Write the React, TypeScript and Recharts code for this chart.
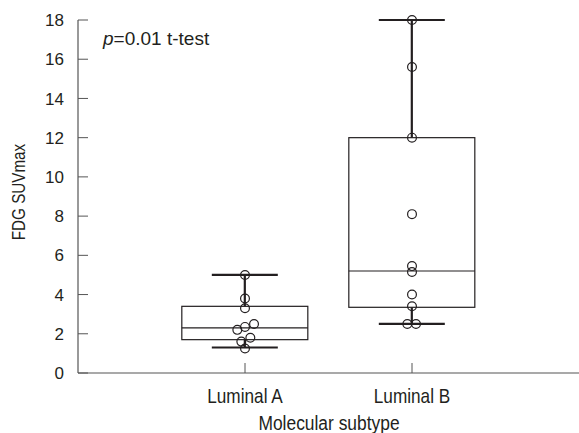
import { ComposedChart, Bar, Scatter, XAxis, YAxis, Label } from "recharts";

// box statistics per subtype
const SUBTYPES = ["Luminal A", "Luminal B"];
const POSITIONS = [1, 2];
const WHISKER_LOW = [1.3, 2.5];
const Q1 = [1.7, 3.35];
const MEDIAN = [2.3, 5.2];
const Q3 = [3.4, 12.0];
const WHISKER_HIGH = [5.0, 18.0];

// individual patients
const VALUES_A = [5.0, 3.8, 3.3, 2.5, 2.35, 2.2, 1.8, 1.6, 1.25];
const JITTER_A = [0, 0, 0, 0.054, 0, -0.046, 0.032, -0.022, 0];
const VALUES_B = [18.0, 15.6, 12.0, 8.1, 5.45, 5.15, 4.0, 3.4, 2.5, 2.5];
const JITTER_B = [0, 0, 0, 0, 0, 0, 0, 0, -0.028, 0.024];

const Y_TICKS = [0, 2, 4, 6, 8, 10, 12, 14, 16, 18];

const INK = "#231f20";
const AXIS = "#555";
const FONT = "'Liberation Sans', Arial, sans-serif";

const boxData = SUBTYPES.map((name, i) => ({
  name,
  pos: POSITIONS[i],
  range: [WHISKER_LOW[i], WHISKER_HIGH[i]],
  q1: Q1[i],
  median: MEDIAN[i],
  q3: Q3[i],
}));

const pointsA = VALUES_A.map((v, i) => ({ pos: POSITIONS[0] + JITTER_A[i], value: v }));
const pointsB = VALUES_B.map((v, i) => ({ pos: POSITIONS[1] + JITTER_B[i], value: v }));

// condensed-looking text (the original uses a narrow sans)
const NarrowText = ({ x, y, size, sx = 0.86, rotate = 0, anchor = "middle", children }: any) => (
  <text
    transform={`translate(${x} ${y}) rotate(${rotate}) scale(${sx} 1)`}
    textAnchor={anchor}
    fontSize={size}
    fontFamily={FONT}
    fill={INK}
  >
    {children}
  </text>
);

// draws whiskers + box using the pixel span the library gives for [low, high]
const BoxShape = (props: any) => {
  const { x, y, width, height, payload } = props;
  const top = Math.min(y, y + height);
  const h = Math.abs(height);
  const [low, high] = payload.range;
  const toY = (v: number) => top + (h * (high - v)) / (high - low);
  const cx = x + width / 2;
  const capHalf = 33;
  const boxHalf = 63;
  return (
    <g>
      <line x1={cx} x2={cx} y1={toY(high)} y2={toY(low)} stroke={INK} strokeWidth={2.2} />
      <line x1={cx - capHalf} x2={cx + capHalf} y1={toY(high)} y2={toY(high)} stroke={INK} strokeWidth={2.2} />
      <line x1={cx - capHalf} x2={cx + capHalf} y1={toY(low)} y2={toY(low)} stroke={INK} strokeWidth={2.2} />
      <rect
        x={cx - boxHalf}
        y={toY(payload.q3)}
        width={boxHalf * 2}
        height={toY(payload.q1) - toY(payload.q3)}
        fill="#fff"
        stroke={INK}
        strokeWidth={1.2}
      />
      <line
        x1={cx - boxHalf}
        x2={cx + boxHalf}
        y1={toY(payload.median)}
        y2={toY(payload.median)}
        stroke={INK}
        strokeWidth={1.2}
      />
    </g>
  );
};

const YTick = (props: any) => {
  const { x, y, payload } = props;
  return (
    <g>
      <line x1={x} x2={x + 10} y1={y} y2={y} stroke={AXIS} strokeWidth={1} />
      <text x={x - 14} y={y} dy="0.36em" textAnchor="end" fontSize={17} fontFamily={FONT} fill={INK}>
        {payload.value}
      </text>
    </g>
  );
};

const XTick = (props: any) => {
  const { x, y, payload } = props;
  const idx = POSITIONS.indexOf(payload.value);
  return (
    <g>
      <line x1={x} x2={x} y1={y - 10} y2={y} stroke={AXIS} strokeWidth={1} />
      <NarrowText x={x} y={y + 30} size={20}>
        {idx >= 0 ? SUBTYPES[idx] : ""}
      </NarrowText>
    </g>
  );
};

const dot = (p: any) => <circle cx={p.cx} cy={p.cy} r={4.4} fill="none" stroke={INK} strokeWidth={1.2} />;

export default function App() {
  return (
    <div style={{ position: "absolute", left: 0, top: 0, background: "#fff" }}>
      <ComposedChart
        width={579}
        height={433}
        data={boxData}
        margin={{ top: 20, right: 0, bottom: 30, left: 0 }}
      >
        <XAxis
          type="number"
          dataKey="pos"
          domain={[0, 3]}
          ticks={POSITIONS}
          allowDataOverflow
          height={30}
          tickSize={0}
          tickMargin={0}
          tick={<XTick />}
          axisLine={{ stroke: AXIS, strokeWidth: 1.2 }}
          tickLine={false}
        >
          <Label
            content={() => (
              <NarrowText x={329} y={430} size={20} sx={0.87}>
                Molecular subtype
              </NarrowText>
            )}
          />
        </XAxis>
        <YAxis
          type="number"
          dataKey="value"
          domain={[0, 18]}
          ticks={Y_TICKS}
          width={78}
          tickSize={0}
          tickMargin={0}
          tick={<YTick />}
          axisLine={{ stroke: AXIS, strokeWidth: 1.2 }}
          tickLine={false}
        >
          <Label
            content={() => (
              <g>
                <NarrowText x={25} y={192} size={17.5} sx={0.87} rotate={-90}>
                  FDG SUVmax
                </NarrowText>
                <text x={103} y={44.5} fontSize={19} fontFamily={FONT} fill={INK}>
                  <tspan fontStyle="italic">p</tspan>=0.01 t-test
                </text>
              </g>
            )}
          />
        </YAxis>
        <Bar dataKey="range" barSize={126} shape={<BoxShape />} isAnimationActive={false} />
        <Scatter data={pointsA} dataKey="value" shape={dot} isAnimationActive={false} />
        <Scatter data={pointsB} dataKey="value" shape={dot} isAnimationActive={false} />
      </ComposedChart>
    </div>
  );
}
